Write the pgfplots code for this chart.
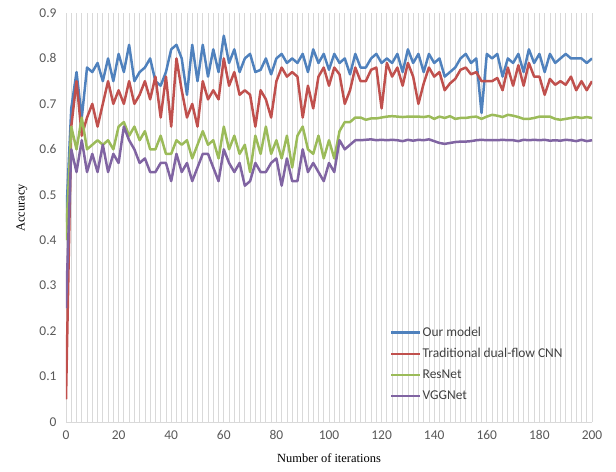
\documentclass[border=0pt]{standalone}
\usepackage{fontspec}
\setmainfont{Liberation Serif}
\newfontfamily\sansf{Carlito}
\usepackage{pgfplots}
\usepackage{pgfplotstable}
\pgfplotsset{compat=1.18}
\definecolor{cblue}{HTML}{4F81BD}
\definecolor{cred}{HTML}{C0504D}
\definecolor{cgreen}{HTML}{9BBB59}
\definecolor{cpurple}{HTML}{8064A2}
\definecolor{ticktxt}{HTML}{595959}
\definecolor{legtxt}{HTML}{404040}
\definecolor{gridc}{HTML}{D9D9D9}

\pgfplotstableread{
x blue red green purple
0 0.44 0.05 0.40 0.25
2 0.69 0.65 0.65 0.60
4 0.77 0.75 0.60 0.55
6 0.67 0.63 0.67 0.62
8 0.78 0.67 0.60 0.55
10 0.77 0.70 0.61 0.59
12 0.79 0.65 0.62 0.55
14 0.75 0.70 0.61 0.61
16 0.80 0.75 0.62 0.55
18 0.75 0.70 0.60 0.59
20 0.81 0.73 0.65 0.57
22 0.77 0.70 0.66 0.65
24 0.83 0.75 0.63 0.62
26 0.75 0.70 0.65 0.60
28 0.77 0.72 0.62 0.57
30 0.78 0.75 0.64 0.58
32 0.80 0.71 0.60 0.55
34 0.75 0.76 0.60 0.55
36 0.74 0.67 0.63 0.57
38 0.77 0.76 0.59 0.57
40 0.82 0.65 0.59 0.53
42 0.83 0.80 0.62 0.59
44 0.80 0.73 0.61 0.55
46 0.72 0.67 0.62 0.57
48 0.83 0.70 0.58 0.53
50 0.75 0.65 0.61 0.56
52 0.83 0.75 0.64 0.59
54 0.76 0.71 0.61 0.59
56 0.82 0.73 0.62 0.56
58 0.77 0.71 0.58 0.53
60 0.85 0.80 0.65 0.60
62 0.79 0.74 0.60 0.57
64 0.82 0.77 0.63 0.55
66 0.77 0.72 0.59 0.57
68 0.80 0.73 0.61 0.52
70 0.81 0.72 0.55 0.53
72 0.77 0.65 0.63 0.57
74 0.775 0.73 0.59 0.55
76 0.80 0.71 0.65 0.55
78 0.765 0.67 0.59 0.57
80 0.80 0.75 0.62 0.58
82 0.81 0.78 0.58 0.52
84 0.79 0.76 0.63 0.58
86 0.80 0.77 0.56 0.53
88 0.79 0.76 0.63 0.53
90 0.81 0.67 0.65 0.60
92 0.77 0.74 0.60 0.55
94 0.82 0.69 0.59 0.57
96 0.79 0.76 0.63 0.55
98 0.81 0.78 0.58 0.53
100 0.775 0.74 0.62 0.57
102 0.81 0.78 0.58 0.55
104 0.79 0.765 0.64 0.62
106 0.80 0.70 0.66 0.60
108 0.765 0.73 0.66 0.61
110 0.81 0.78 0.670 0.620
112 0.78 0.75 0.670 0.620
114 0.78 0.75 0.665 0.621
116 0.80 0.775 0.668 0.622
118 0.81 0.78 0.668 0.620
120 0.79 0.69 0.670 0.621
122 0.80 0.79 0.672 0.620
124 0.79 0.76 0.673 0.621
126 0.81 0.78 0.672 0.620
128 0.77 0.74 0.671 0.618
130 0.82 0.79 0.672 0.621
132 0.79 0.76 0.672 0.619
134 0.81 0.70 0.672 0.621
136 0.77 0.745 0.671 0.620
138 0.81 0.78 0.673 0.622
140 0.79 0.76 0.667 0.618
142 0.80 0.77 0.672 0.614
144 0.76 0.73 0.669 0.612
146 0.77 0.745 0.673 0.614
148 0.78 0.755 0.667 0.616
150 0.80 0.775 0.669 0.617
152 0.81 0.78 0.669 0.617
154 0.79 0.765 0.671 0.618
156 0.80 0.77 0.672 0.620
158 0.68 0.75 0.667 0.621
160 0.81 0.75 0.672 0.620
162 0.80 0.75 0.676 0.620
164 0.81 0.757 0.674 0.620
166 0.76 0.73 0.671 0.621
168 0.80 0.78 0.676 0.620
170 0.79 0.74 0.674 0.620
172 0.81 0.785 0.671 0.618
174 0.77 0.74 0.667 0.621
176 0.82 0.79 0.667 0.620
178 0.79 0.76 0.669 0.621
180 0.81 0.76 0.672 0.620
182 0.77 0.72 0.672 0.621
184 0.81 0.755 0.672 0.619
186 0.79 0.742 0.667 0.620
188 0.80 0.75 0.665 0.619
190 0.81 0.742 0.667 0.621
192 0.80 0.76 0.669 0.620
194 0.80 0.73 0.671 0.618
196 0.80 0.75 0.669 0.621
198 0.79 0.73 0.671 0.618
200 0.80 0.75 0.669 0.620
}\datatable

\begin{document}
\begin{tikzpicture}
\useasboundingbox (-66bp,-50bp) rectangle (550bp,422bp);
\begin{axis}[
  at={(0,0)}, anchor=south west,
  scale only axis, width=526bp, height=409bp,
  xmin=0, xmax=200, ymin=0, ymax=0.9,
  xtick={0,20,...,200},
  ytick={0,0.1,0.2,0.3,0.4,0.5,0.6,0.7,0.8,0.9},
  minor x tick num=9,
  xmajorgrids, xminorgrids,
  major grid style={gridc, line width=0.8bp},
  minor grid style={gridc, line width=0.8bp},
  axis x line=bottom, axis y line=left,
  x axis line style={-, draw=gridc, line width=0.9bp},
  y axis line style={draw=none},
  tick style={draw=none},
  major tick length=0pt, minor tick length=0pt,
  /pgf/number format/assume math mode=true,
  ticklabel style={font=\sansf\fontsize{13.5}{16}\selectfont, text=ticktxt},
  yticklabel style={xshift=-6bp},
  xticklabel style={yshift=-5bp},
  every axis x label/.style={at={(axis description cs:0.5,0)}, yshift=-36bp, anchor=center},
  every axis y label/.style={at={(axis description cs:-0.0837,0.524)}, rotate=90, anchor=center},
  label style={font=\fontsize{12.5}{15}\selectfont, text=black},
  xlabel={Number of iterations},
  ylabel={Accuracy},
  legend cell align=left,
  legend image code/.code={\draw[#1] (0bp,0bp) -- (29bp,0bp);},
  legend style={at={(axis description cs:0.616,0.235)}, anchor=north west,
    draw=none, fill=none, inner sep=0pt, row sep=8.6bp,
    font=\sansf\fontsize{13.5}{16}\selectfont, text=legtxt,
    nodes={inner xsep=1bp, inner ysep=1bp}},
  every axis plot/.append style={line width=2.5pt, line join=round, mark=none},
]
\addplot[cblue] table[x=x, y=blue] {\datatable};
\addlegendentry{Our model}
\addplot[cred] table[x=x, y=red] {\datatable};
\addlegendentry{Traditional dual-flow CNN}
\addplot[cgreen] table[x=x, y=green] {\datatable};
\addlegendentry{ResNet}
\addplot[cpurple] table[x=x, y=purple] {\datatable};
\addlegendentry{VGGNet}
\end{axis}
\end{tikzpicture}
\end{document}
